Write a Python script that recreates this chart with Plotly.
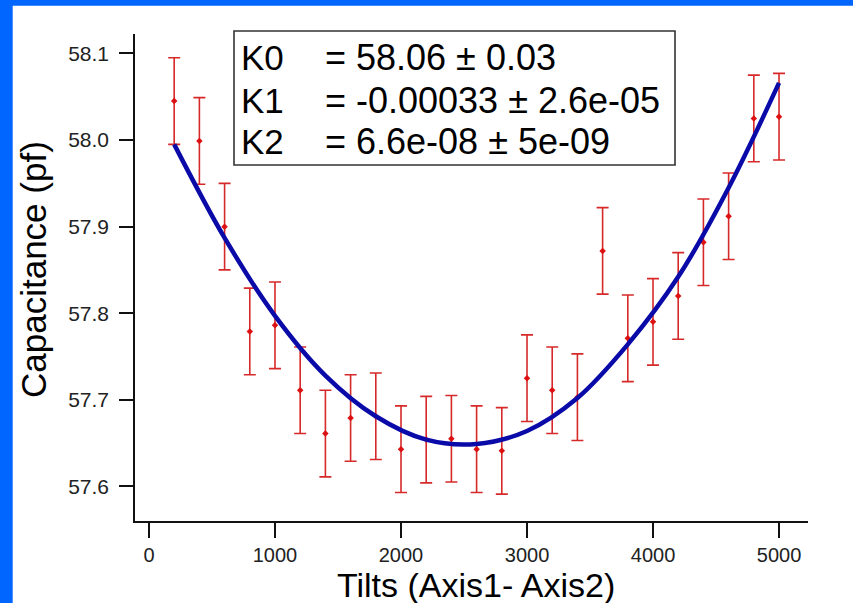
import plotly.graph_objects as go

# ---- data ----
tilts = [200, 400, 600, 800, 1000, 1200, 1400, 1600, 1800, 2000, 2200, 2400, 2600,
         2800, 3000, 3200, 3400, 3600, 3800, 4000, 4200, 4400, 4600, 4800, 5000]
capacitance = [58.045, 57.999, 57.900, 57.779, 57.786, 57.711, 57.661, 57.679, 57.681,
               57.643, 57.654, 57.655, 57.643, 57.641, 57.725, 57.711, 57.703, 57.872,
               57.771, 57.790, 57.820, 57.882, 57.912, 58.025, 58.027]
cap_error = [0.05] * len(tilts)

fit_x = [200, 600, 1000, 1400, 1800, 2200, 2600, 3000, 3400, 3800, 4200, 4600, 5000]
fit_y = [57.995, 57.887, 57.797, 57.728, 57.681, 57.654, 57.649, 57.664, 57.702,
         57.764, 57.842, 57.945, 58.066]

x_ticks = [0, 1000, 2000, 3000, 4000, 5000]
y_ticks = [57.6, 57.7, 57.8, 57.9, 58.0, 58.1]
y_tick_text = ["57.6", "57.7", "57.8", "57.9", "58.0", "58.1"]

param_names = ["K0", "K1", "K2"]
param_values = ["= 58.06 ± 0.03", "= -0.00033 ± 2.6e-05", "= 6.6e-08 ± 5e-09"]

x_title = "Tilts (Axis1- Axis2)"
y_title = "Capacitance (pf)"

# ---- layout geometry (pixels) ----
FW, FH = 853, 603
L, R, T, B = 135, 808, 34, 521
W, H = R - L, B - T


def px(xp):
    return (xp - L) / W


def py(yp):
    return (B - yp) / H


FONT = "Liberation Sans, Arial, Helvetica, sans-serif"
BLUE_BG = "#0066ff"

fig = go.Figure()

fig.add_trace(go.Scatter(
    x=tilts, y=capacitance, mode="markers",
    marker=dict(symbol="diamond", size=5, color="#dd1111"),
    error_y=dict(type="data", array=cap_error, visible=True,
                 color="#d62a2a", thickness=1.6, width=6),
    hoverinfo="x+y",
))

fig.add_trace(go.Scatter(
    x=fit_x, y=fit_y, mode="lines",
    line=dict(color="#0a0aa8", width=4.5, shape="spline", smoothing=1.0),
    hoverinfo="skip",
))

shapes = [
    # white panel over the blue page
    dict(type="rect", xref="paper", yref="paper", layer="below",
         x0=px(12.7), x1=px(FW + 5), y0=py(FH + 5), y1=py(5.7),
         fillcolor="white", line=dict(width=0)),
    # parameter box
    dict(type="rect", xref="paper", yref="paper", layer="above",
         x0=px(234), x1=px(675), y0=py(165), y1=py(31),
         fillcolor="rgba(0,0,0,0)", line=dict(color="#333333", width=1.6)),
]

annotations = []
line_centers = [58, 100, 142]
for name, val, yc in zip(param_names, param_values, line_centers):
    annotations.append(dict(xref="paper", yref="paper", x=px(239), y=py(yc),
                            xanchor="left", yanchor="middle", showarrow=False,
                            text=name, font=dict(family=FONT, size=35, color="black")))
    annotations.append(dict(xref="paper", yref="paper", x=px(323), y=py(yc),
                            xanchor="left", yanchor="middle", showarrow=False,
                            text=val, font=dict(family=FONT, size=36, color="black")))

annotations.append(dict(xref="paper", yref="paper", x=px(476), y=py(585),
                        xanchor="center", yanchor="middle", showarrow=False,
                        text=x_title, font=dict(family=FONT, size=34, color="black")))
annotations.append(dict(xref="paper", yref="paper", x=px(33), y=py(270),
                        xanchor="center", yanchor="middle", showarrow=False,
                        textangle=-90,
                        text=y_title, font=dict(family=FONT, size=35, color="black")))

fig.update_layout(
    width=FW, height=FH,
    margin=dict(l=L, r=FW - R, t=T, b=FH - B, pad=0),
    paper_bgcolor=BLUE_BG,
    plot_bgcolor="white",
    showlegend=False,
    shapes=shapes,
    annotations=annotations,
    xaxis=dict(range=[-111, 5230], tickvals=x_ticks, ticks="outside", ticklen=15,
               tickwidth=1.5, tickcolor="#111111", showline=True, linecolor="#111111",
               linewidth=1.6, showgrid=False, zeroline=False,
               tickfont=dict(family=FONT, size=20, color="#222222")),
    yaxis=dict(range=[57.560, 58.1225], tickvals=y_ticks, ticktext=y_tick_text,
               ticks="outside", ticklen=14, tickwidth=1.5, tickcolor="#111111",
               showline=True, linecolor="#111111", linewidth=1.6, showgrid=False,
               zeroline=False, ticklabelstandoff=6,
               tickfont=dict(family=FONT, size=21, color="#222222")),
)

fig.write_html("out.html")
